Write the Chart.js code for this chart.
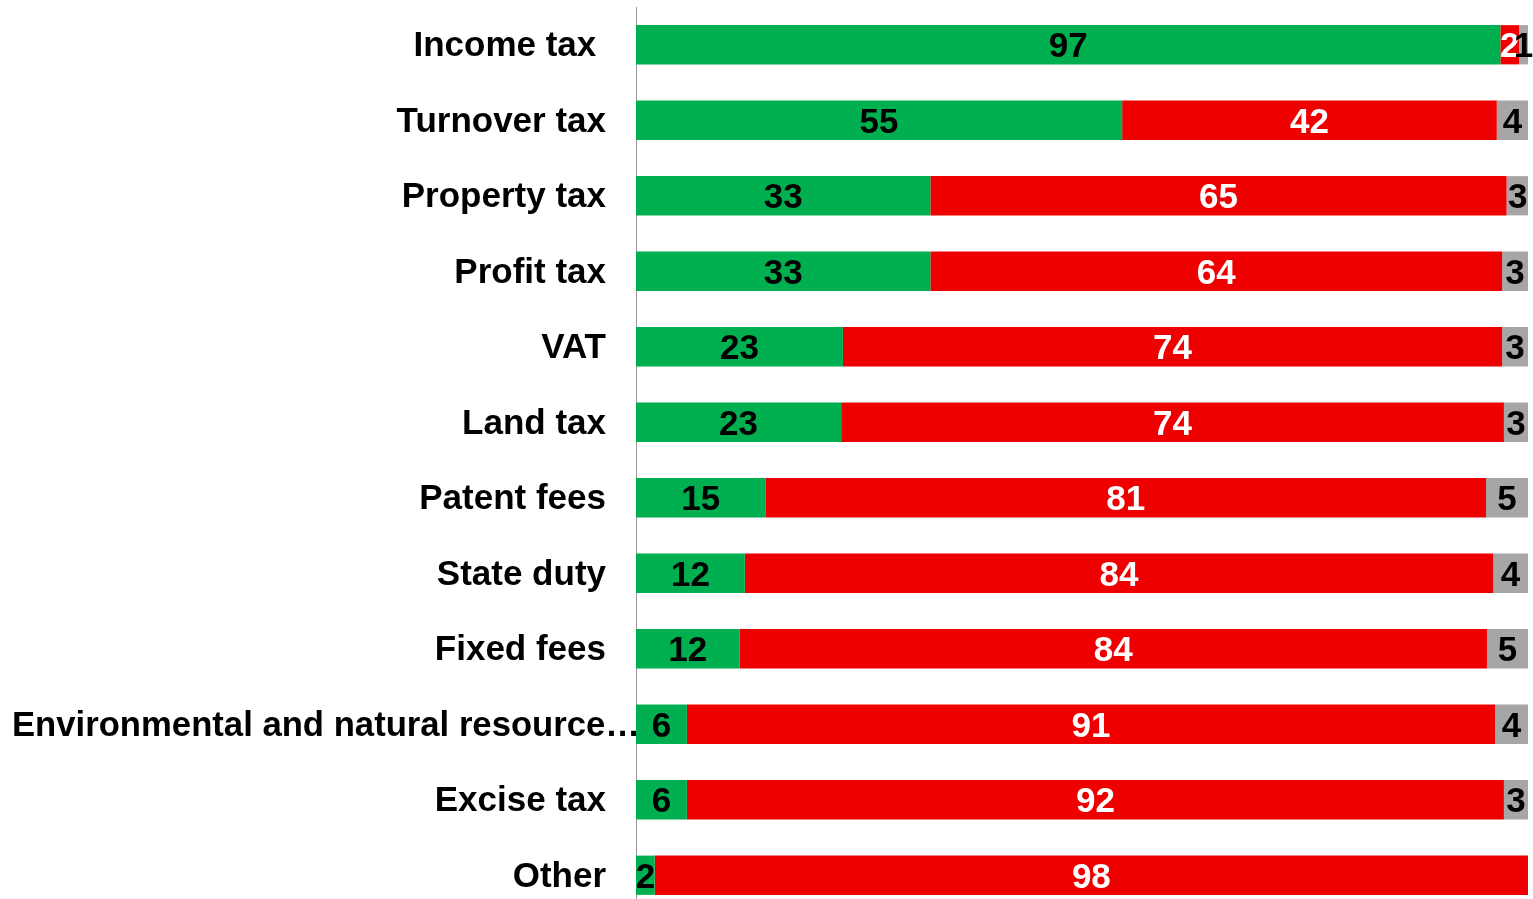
<!DOCTYPE html>
<html>
<head>
<meta charset="utf-8">
<script src="https://cdn.jsdelivr.net/npm/chart.js@4/dist/chart.umd.min.js"></script>
<style>
  html, body { margin: 0; padding: 0; background: #fff; overflow: hidden; }
  canvas { display: block; }
</style>
</head>
<body>
<canvas id="chart" width="1533" height="914"></canvas>
<script>
const CATEGORIES = ["Income tax ", "Turnover tax", "Property tax", "Profit tax", "VAT", "Land tax",
  "Patent fees", "State duty", "Fixed fees", "Environmental and natural resource fees",
  "Excise tax", "Other"];
const GREEN_VALUES = [96.9, 54.5, 33.0, 33.0, 23.2, 23.0, 14.5, 12.2, 11.6, 5.7, 5.7, 2.1];
const RED_VALUES = [2.1, 42.0, 64.6, 64.1, 73.9, 74.3, 80.8, 83.9, 83.8, 90.6, 91.6, 97.9];
const GRAY_VALUES = [1.0, 3.5, 2.5, 2.9, 2.9, 2.7, 4.7, 3.9, 4.6, 3.7, 2.7, 0];

const FONT = "bold 35px 'Liberation Sans', Arial, sans-serif";

// bar value labels, centred in each segment
const valueLabels = {
  id: "valueLabels",
  afterDatasetsDraw(chart) {
    const ctx = chart.ctx;
    ctx.save();
    ctx.font = FONT;
    ctx.textAlign = "center";
    ctx.textBaseline = "middle";
    chart.data.datasets.forEach((ds, i) => {
      const meta = chart.getDatasetMeta(i);
      meta.data.forEach((bar, j) => {
        const v = ds.data[j];
        if (!v) return;
        ctx.fillStyle = ds.labelColor;
        ctx.fillText(Math.round(v), (bar.x + bar.base) / 2, bar.y + 3);
      });
    });
    ctx.restore();
  }
};

// category labels, right aligned left of the axis; long ones are cut and run to the left edge
const categoryLabels = {
  id: "categoryLabels",
  afterDraw(chart) {
    const ctx = chart.ctx;
    const yScale = chart.scales.y;
    const right = chart.chartArea.left - 30;
    const maxWidth = chart.chartArea.left + 4 - 12;
    ctx.save();
    ctx.font = FONT;
    ctx.fillStyle = "#000";
    ctx.textBaseline = "middle";
    CATEGORIES.forEach((label, i) => {
      const y = yScale.getPixelForValue(i) + 2;
      let text = label;
      if (ctx.measureText(text).width > right - 12) {
        while (ctx.measureText(text.trimEnd() + "…").width > maxWidth + 20) text = text.slice(0, -1);
        text = text.trimEnd() + "…";
        ctx.textAlign = "left";
        ctx.fillText(text, 12, y, maxWidth);
      } else {
        ctx.textAlign = "right";
        ctx.fillText(text, right, y);
      }
    });
    ctx.restore();
  }
};

new Chart(document.getElementById("chart"), {
  type: "bar",
  data: {
    labels: CATEGORIES,
    datasets: [
      { data: GREEN_VALUES, backgroundColor: "#00B050", labelColor: "#000" },
      { data: RED_VALUES, backgroundColor: "#EE0000", labelColor: "#fff" },
      { data: GRAY_VALUES, backgroundColor: "#A6A6A6", labelColor: "#000" }
    ]
  },
  options: {
    indexAxis: "y",
    responsive: false,
    animation: false,
    devicePixelRatio: 1,
    layout: { padding: { top: 7, right: 5, bottom: 1, left: 0 } },
    barPercentage: 0.52,
    categoryPercentage: 1,
    plugins: { legend: { display: false }, tooltip: { enabled: false } },
    scales: {
      x: { stacked: true, min: 0, max: 100, display: false },
      y: {
        stacked: true,
        grid: { display: false },
        border: { display: true, color: "#999", width: 1 },
        ticks: { display: false },
        afterFit(scale) { scale.width = 636; }
      }
    }
  },
  plugins: [valueLabels, categoryLabels]
});
</script>
</body>
</html>
